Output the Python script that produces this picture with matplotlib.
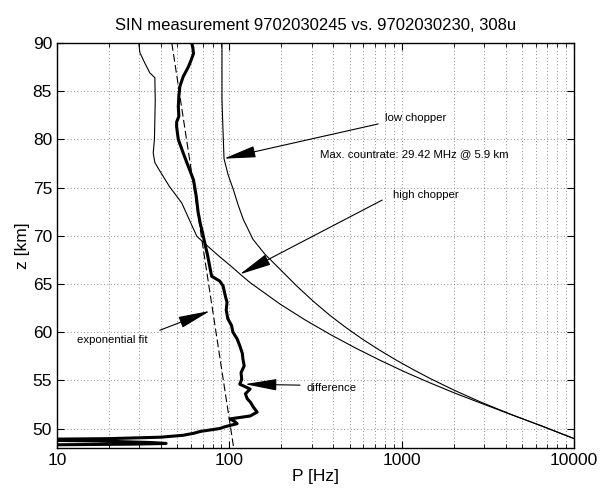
import matplotlib
matplotlib.use('Agg')
import matplotlib.pyplot as plt
import numpy as np

plt.rcParams['font.family'] = ['Liberation Sans', 'DejaVu Sans']

# low chopper profile (z in km, P in Hz)
low_z = [90, 84.1, 81.0, 78.0, 76.35, 74.8, 73.24, 71.69, 69.62, 68.07, 66.52, 64.79, 63.20,
         61.73, 60.46, 59.20, 58.10, 57.06, 56.12, 55.19, 54.01, 52.77, 51.50, 50.18, 48.95]
low_p = [90.7, 90.7, 91.9, 93.2, 98.3, 105.5, 112.3, 120.6, 137.3, 161.2, 197, 246, 307,
         384, 476, 600, 749, 937, 1165, 1461, 1995, 2851, 4257, 6643, 10000]

# high chopper profile
high_z = [89.9, 89.0, 87.9, 86.9, 86.4, 84, 82, 80, 78.6, 77.6, 76.9, 75.1, 73.4, 71.7, 70.7,
          69.93, 68.9, 67.97, 66.93, 66.05, 65.14, 62.91, 61.27, 59.77, 58.38, 57.08, 55.86,
          54.73, 53.66, 52.66, 51.48, 50.33, 48.95]
high_p = [29.9, 30.3, 32.4, 34.6, 37, 37.2, 37, 36.8, 36.2, 37, 39, 45, 53, 58.5, 62,
          64.9, 75.2, 86, 101, 115, 132, 197, 275, 384, 536, 749, 1046,
          1461, 2041, 2851, 4257, 6358, 10000]

# difference low - high (thick)
diff_z = [90, 89.5, 88.9, 88.2, 87.5, 86.5, 85.5, 84.5, 83.4, 82.4, 81.8, 81.3, 80.0,
          78.6, 77.2, 75.8, 74.1, 72.4, 71.2, 70.3, 68.8, 67.9, 66.8, 65.8, 65.3, 64.8,
          63.7, 63.1, 62.3, 61.4, 60.7, 60.0, 59.3, 58.6, 57.8, 57.2, 56.5, 55.8, 55.1, 54.6, 54.1,
          53.6, 53.1, 52.7, 52.3, 51.7, 51.3, 51.0, 50.7, 50.5, 50.2, 50.0, 49.7, 49.5, 49.3, 49.1,
          48.95, 48.9, 48.8, 48.7, 48.55, 48.45, 48.38, 48.3]
diff_p = [60.5, 61.5, 62, 60, 57.8, 54, 51.7, 51, 50.6, 51, 49.5, 49.5, 50.6,
          54, 57.8, 62, 64.3, 66, 68, 70, 73, 75, 77, 79, 88, 92,
          95, 97, 96, 98, 103, 105, 111, 115, 119, 120, 122, 117, 118, 115, 132,
          124, 127, 133, 137, 145, 132, 101, 108, 111, 95, 88, 68, 62, 54, 40,
          20, 10, 7, 18, 35, 43, 28, 8]

# exponential fit (two end points of the straight line in semilog space)
fit_z = [90, 48]
fit_p = [46.4, 106]

fig = plt.figure(figsize=(6.05, 4.97), dpi=100)
ax = fig.add_axes([0.094, 0.099, 0.855, 0.8145])

ax.plot(low_p, low_z, color='black', lw=0.8)
ax.plot(high_p, high_z, color='black', lw=0.8)
ax.plot(diff_p, diff_z, color='black', lw=2.2)
ax.plot(fit_p, fit_z, color='black', lw=0.8, linestyle=(0, (7, 3)))

ax.set_xscale('log')
ax.set_xlim(10, 10000)
ax.set_ylim(48, 90)
ax.set_xticks([10, 100, 1000, 10000])
ax.set_xticklabels(['10', '100', '1000', '10000'])
ax.set_yticks(np.arange(50, 91, 5))
ax.tick_params(which='both', direction='in', top=True, right=True, labelsize=12.5)
ax.tick_params(which='major', length=5)
ax.tick_params(which='minor', length=3)
ax.grid(True, which='both', linestyle=(0, (1, 3)), color='0.4', lw=0.6)
for s in ax.spines.values():
    s.set_linewidth(1.0)

ax.set_xlabel('P [Hz]', fontsize=12.5, labelpad=1)
ax.set_ylabel('z [km]', fontsize=12.5, labelpad=2)
ax.set_title('SIN measurement 9702030245 vs. 9702030230, 308u', fontsize=12, pad=9)

ap = dict(arrowstyle='-|>,head_length=2.0,head_width=0.36', color='black', lw=0.8,
          mutation_scale=10, shrinkA=0, shrinkB=0)
fs = 8.2

ax.text(800, 82.2, 'low chopper', fontsize=fs, va='center', ha='left')
ax.annotate('', xy=(93, 78.0), xytext=(730, 81.6), arrowprops=ap)
ax.text(336, 78.5, 'Max. countrate: 29.42 MHz @ 5.9 km', fontsize=fs, va='center', ha='left')
ax.text(890, 74.2, 'high chopper', fontsize=fs, va='center', ha='left')
ax.annotate('', xy=(115, 66.0), xytext=(770, 73.7), arrowprops=ap)
ax.text(13.1, 59.2, 'exponential fit', fontsize=fs, va='center', ha='left')
ax.annotate('', xy=(77.3, 62.2), xytext=(39.6, 60.2), arrowprops=ap)
ax.text(282, 54.2, 'difference', fontsize=fs, va='center', ha='left')
ax.annotate('', xy=(123, 54.6), xytext=(257, 54.5), arrowprops=ap)

fig.savefig('out.png', dpi=100)
